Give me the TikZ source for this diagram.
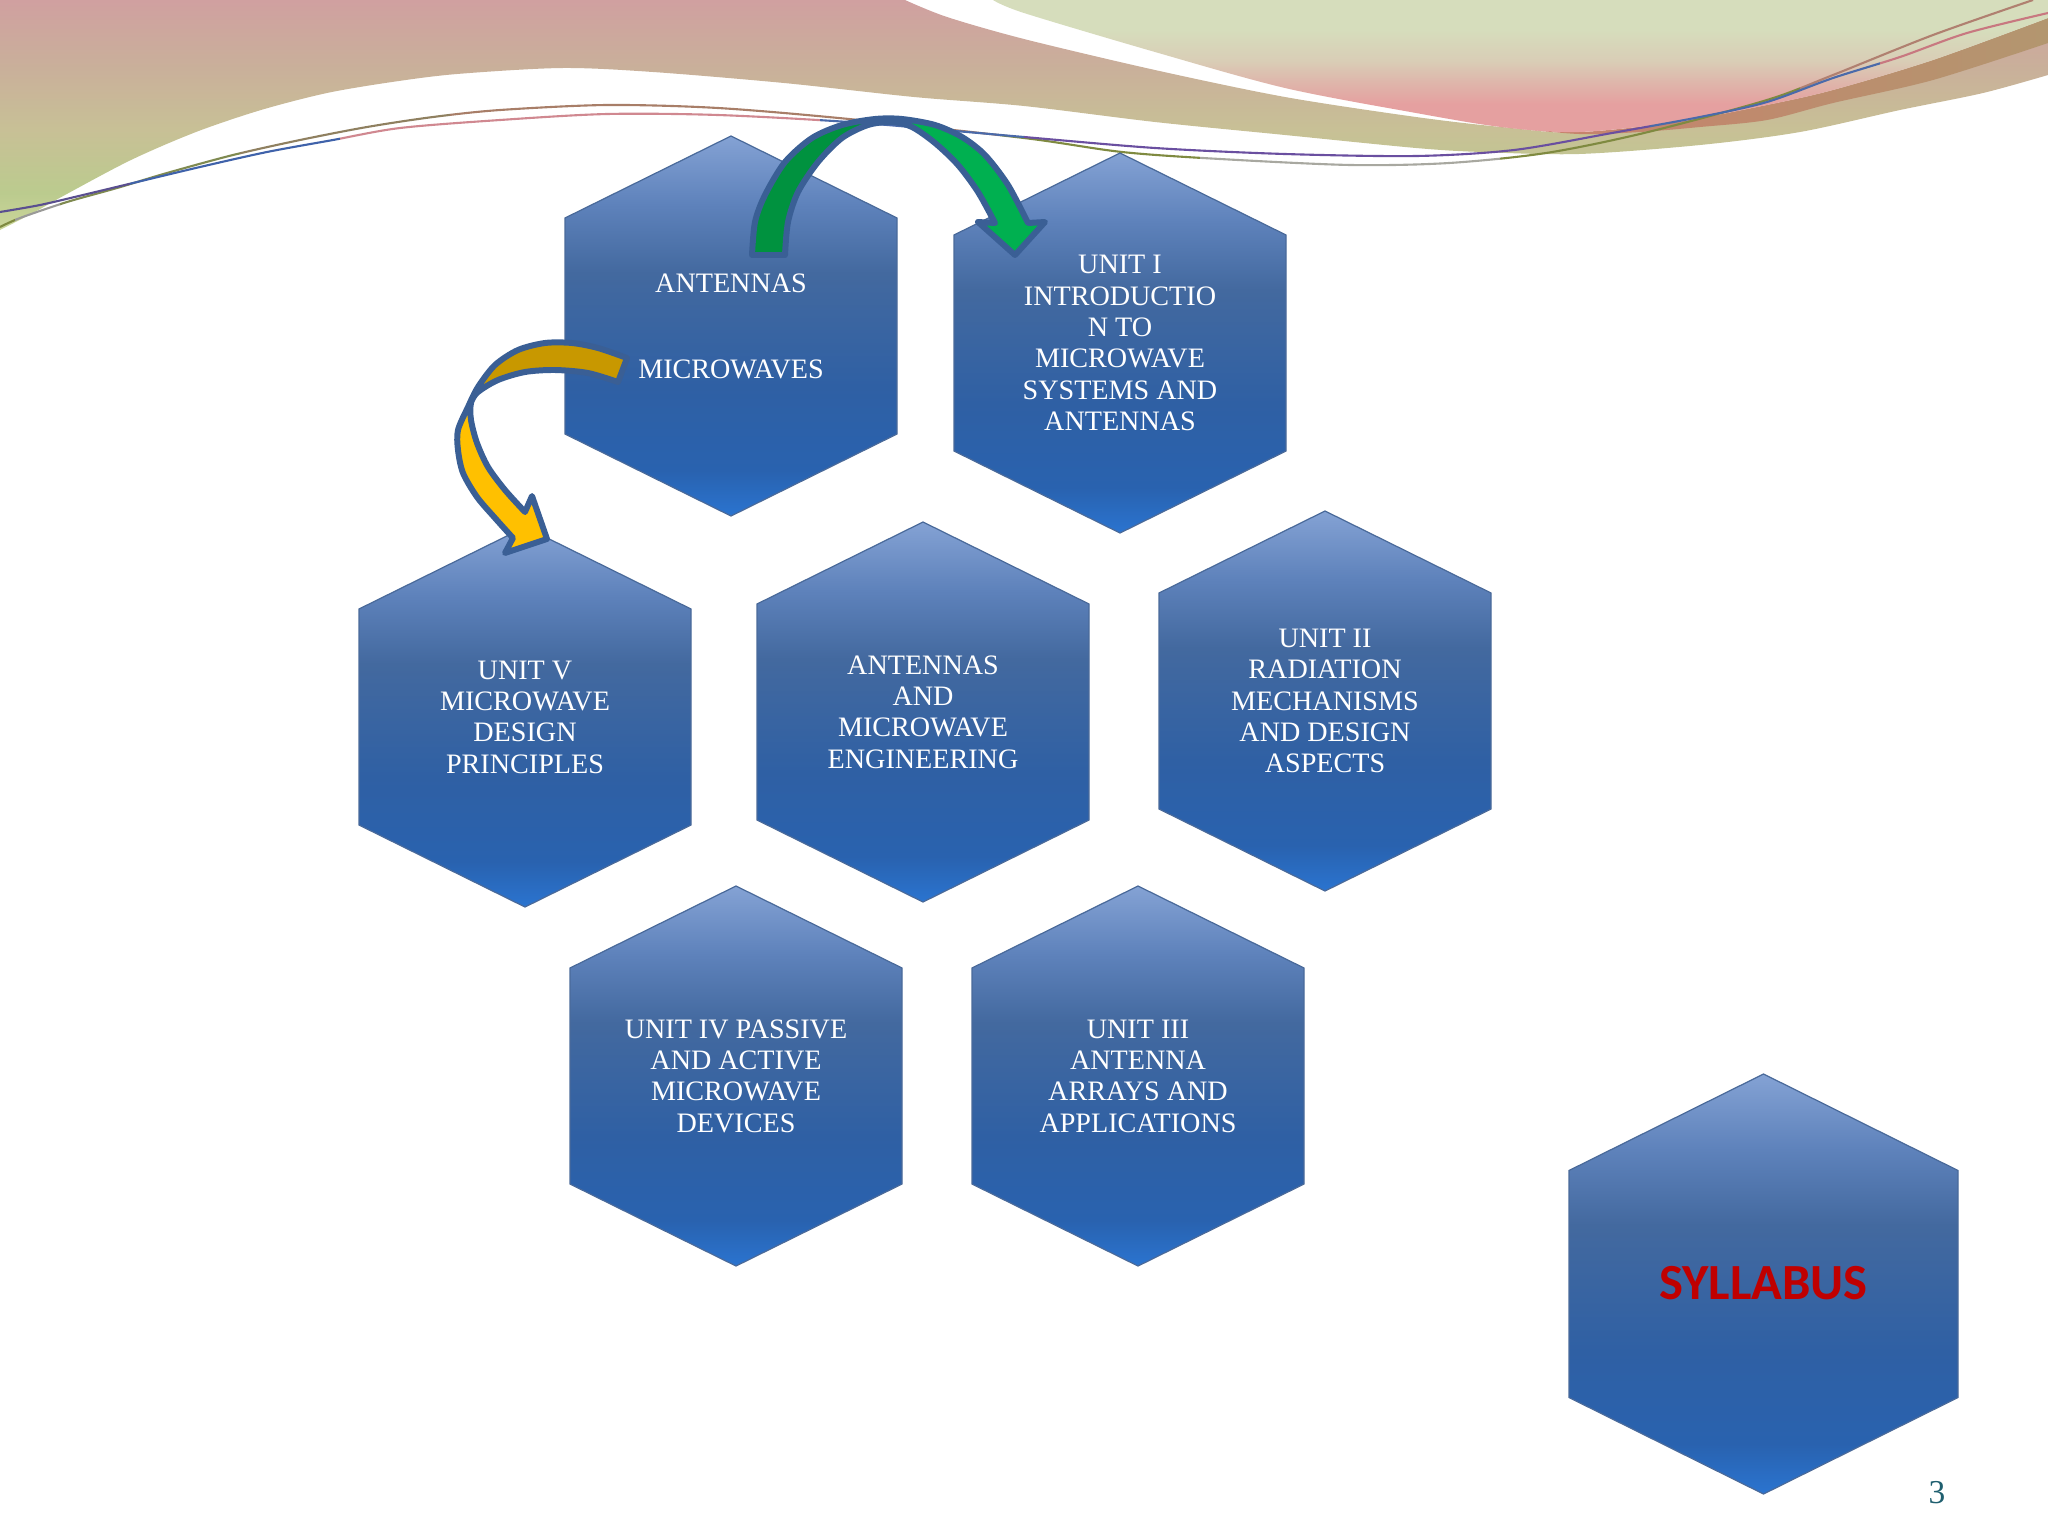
\documentclass[tikz,border=0pt]{standalone}
\usepackage{fontspec}
\setmainfont{Liberation Serif}
\newfontfamily\syllabusfont{Carlito}
\usepackage{tikz}
\usetikzlibrary{calc}

\definecolor{arrowedge}{HTML}{3A5F95}
\definecolor{greendark}{HTML}{00923F}
\definecolor{greenlight}{HTML}{00B050}
\definecolor{golddark}{HTML}{C89800}
\definecolor{goldlight}{HTML}{FFC000}
\definecolor{hexedge}{HTML}{4A6A9A}
\definecolor{pagenum}{HTML}{1F5F6F}
\definecolor{syllabusred}{HTML}{C00000}
\definecolor{overlapred}{HTML}{C9806C}
\definecolor{overlapbrown}{HTML}{B3966F}
\definecolor{hexbot}{HTML}{2A74D0}
\definecolor{hexlow}{HTML}{2962AF}
\definecolor{hexmid}{HTML}{2F60A4}
\definecolor{hexup}{HTML}{43699F}
\definecolor{hexhigh}{HTML}{5E82BB}
\definecolor{hextop}{HTML}{84A2D4}
\definecolor{bandgreen}{HTML}{CBD69A}
\definecolor{bandolive}{HTML}{BBCB8E}
\definecolor{bandtan}{HTML}{C8C096}
\definecolor{bandrose}{HTML}{C9B09A}
\definecolor{bandpink}{HTML}{D0A0A0}
\definecolor{crestpink}{HTML}{E5A0A0}
\definecolor{crestmid}{HTML}{E0B0A8}
\definecolor{crestsand}{HTML}{D9CDB6}
\definecolor{crestgreen}{HTML}{D6DDBC}

\pgfdeclareverticalshading{hexshade}{100bp}{
    color(0bp)=(hexbot); color(25bp)=(hexbot);
    color(31bp)=(hexlow); color(42bp)=(hexmid);
    color(57bp)=(hexup); color(66bp)=(hexhigh);
    color(75bp)=(hextop); color(100bp)=(hextop)}
\pgfdeclareverticalshading{bandshade}{100bp}{
    color(0bp)=(bandgreen); color(25bp)=(bandgreen); color(33bp)=(bandolive);
    color(47bp)=(bandtan); color(60bp)=(bandrose);
    color(75bp)=(bandpink); color(100bp)=(bandpink)}
\pgfdeclareverticalshading{crestshade}{100bp}{
    color(0bp)=(crestpink); color(25bp)=(crestpink);
    color(36bp)=(crestpink); color(42bp)=(crestmid); color(52bp)=(crestsand);
    color(64bp)=(crestgreen); color(100bp)=(crestgreen)}

\tikzset{
    hexcell/.style={draw=hexedge,line width=0.35pt,shading=hexshade},
    celltext/.style={align=center,text=white,font=\fontsize{8}{8.9}\selectfont},
    ribbon/.style={draw=arrowedge,line width=1.7pt,line join=round},
    swoosh/.style={line width=0.6pt}
}

% one hexagon, then its text
\newcommand{\hexnode}[3]{
    \path[hexcell,shift={#2}] (0,-190) -- (166,-108) -- (166,108) -- (0,190)
        -- (-166,108) -- (-166,-108) -- cycle;
    \node[celltext] (#1) at #2 {#3};
}

\begin{document}
\begin{tikzpicture}[x=0.01cm,y=-0.01cm]
    \useasboundingbox (0,0) rectangle (2048,1536);

    % banner
    \path[shading=bandshade]
        (0,0) -- (905,0)
        -- plot[smooth] coordinates {(905,0) (947,17) (1024,39) (1155,70) (1285,97) (1416,117) (1501,127) (1579,133) (1677,122) (1767,105) (1833,90) (1933,60) (2048,18)}
        -- plot[smooth] coordinates {(2048,75) (1983,93) (1900,110) (1800,132) (1700,145) (1579,154) (1481,152) (1416,148) (1285,135) (1155,122) (1024,106) (914,97) (784,83) (653,72) (562,68) (457,74) (392,82) (327,93) (261,110) (196,132) (131,160) (65,195) (33,213) (0,230)}
        -- cycle;
    \path[left color=overlapred,right color=overlapbrown]
        plot[smooth] coordinates {(1501,127) (1579,132) (1677,122) (1767,105) (1833,90) (1933,60) (2048,18)}
        -- plot[smooth] coordinates {(2048,43) (1933,80) (1833,103) (1767,120) (1700,127) (1640,132) (1579,134) (1501,127)}
        -- cycle;
    \path[shading=crestshade]
        (993,0) -- plot[smooth] coordinates {(993,0) (1024,13) (1155,52) (1285,88) (1416,113) (1501,127) (1579,132) (1677,122) (1767,105) (1833,90) (1933,60) (2048,18)}
        -- (2048,0) -- cycle;

    % thin lines, colour changes along them
    \def\linetop{plot[smooth] coordinates {(0,227) (20,218) (67,202) (117,188) (167,173) (233,155) (300,140) (367,127) (433,117) (500,110) (607,105) (718,108) (849,119) (1024,138) (1122,152) (1220,159) (1351,165) (1449,163) (1546,153) (1644,133) (1767,100) (1833,75) (1933,35) (2033,0)}}
    \def\linelow{plot[smooth] coordinates {(0,212) (40,205) (83,195) (133,183) (200,167) (267,152) (333,140) (400,128) (500,120) (607,114) (718,115) (849,122) (967,132) (1024,137) (1155,148) (1285,154) (1416,156) (1514,150) (1612,133) (1700,117) (1767,102) (1833,78) (1900,57) (1967,33) (2048,13)}}
    \foreach \xa/\xb/\tone in {0/15/7F8A40,15/60/9A9A98,60/240/7F8A50,240/450/8F8060,450/1000/A87E68,1000/1200/7F8A40,1200/1500/A8A8A0,1500/1800/7F8A40,1800/2048/B08070}{
        \begin{scope}
            \clip (\xa,0) rectangle (\xb,260);
            \definecolor{linetone}{HTML}{\tone}
            \draw[swoosh,linetone] \linetop;
        \end{scope}
    }
    \foreach \xa/\xb/\tone in {0/130/5A4F90,130/340/3F62AA,340/820/D08890,820/1024/4A6AAA,1024/1650/6A4FA0,1650/1880/4A6AAA,1880/2048/C87880}{
        \begin{scope}
            \clip (\xa,0) rectangle (\xb,260);
            \definecolor{linetone}{HTML}{\tone}
            \draw[swoosh,linetone] \linelow;
        \end{scope}
    }

    % hexagons
    \hexnode{antennas}{(731,326)}{ANTENNAS\\[15.6pt]MICROWAVES}
    \hexnode{unitone}{(1120,343)}{UNIT I\\INTRODUCTIO\\N TO\\MICROWAVE\\SYSTEMS AND\\ANTENNAS}
    \hexnode{unitfive}{(525,717)}{UNIT V\\MICROWAVE\\DESIGN\\PRINCIPLES}
    \hexnode{subject}{(923,712)}{ANTENNAS\\AND\\MICROWAVE\\ENGINEERING}
    \hexnode{unittwo}{(1325,701)}{UNIT II\\RADIATION\\MECHANISMS\\AND DESIGN\\ASPECTS}
    \hexnode{unitfour}{(736,1076)}{UNIT IV PASSIVE\\AND ACTIVE\\MICROWAVE\\DEVICES}
    \hexnode{unitthree}{(1138,1076)}{UNIT III\\ANTENNA\\ARRAYS AND\\APPLICATIONS}

    \path[hexcell,shift={(1763.5,1284)}] (0,-210) -- (194.5,-113.5) -- (194.5,113.5) -- (0,210)
        -- (-194.5,113.5) -- (-194.5,-113.5) -- cycle;
    \node[font=\syllabusfont\bfseries\fontsize{14.4}{16}\selectfont,text=syllabusred] (syllabus) at (1763.5,1283) {SYLLABUS};
    \node[font=\fontsize{9.5}{10}\selectfont,text=pagenum] (pageno) at (1937,1493) {3};

    % green arrow
    \coordinate (greentip) at ($(unitone)+(-105,-88)$);
    \def\greenshape{(752,255) -- plot[smooth] coordinates {(752,255) (755,222) (765,195) (785,162) (812,138) (842,125) (875,119) (902,119) (935,125) (962,137) (985,155) (1008,185) (1028,223)}
        -- (1045,222) -- (greentip) -- (978,222) -- (995,223)
        -- plot[smooth] coordinates {(995,223) (978,192) (958,165) (935,143) (912,127) (892,122) (868,125) (842,138) (818,162) (798,192) (788,222) (785,255)} -- cycle}
    \begin{scope}
        \clip (700,100) rectangle (890,270);
        \fill[greendark] \greenshape;
    \end{scope}
    \begin{scope}
        \clip (890,100) rectangle (1080,270);
        \fill[greenlight] \greenshape;
    \end{scope}
    \draw[ribbon] \greenshape;

    % gold arrow
    \coordinate (goldtip) at ($(unitfive)+(22,-178)$);
    \def\goldshape{(627,358) -- plot[smooth] coordinates {(627,358) (598,348) (572,343) (545,343) (518,350) (495,365) (478,387) (468,407) (458,430) (458,450) (463,473) (477,497) (495,518) (513,538)}
        -- (505,553) -- (goldtip) -- (532,496) -- (525,512)
        -- plot[smooth] coordinates {(525,512) (505,490) (488,467) (477,443) (471,420) (471,403) (478,392) (498,380) (525,372) (555,370) (588,373) (618,382)} -- cycle}
    \begin{scope}
        \clip (440,330) rectangle (640,397);
        \fill[golddark] \goldshape;
    \end{scope}
    \begin{scope}
        \clip (440,397) rectangle (640,570);
        \fill[goldlight] \goldshape;
    \end{scope}
    \draw[ribbon] \goldshape;
\end{tikzpicture}
\end{document}
